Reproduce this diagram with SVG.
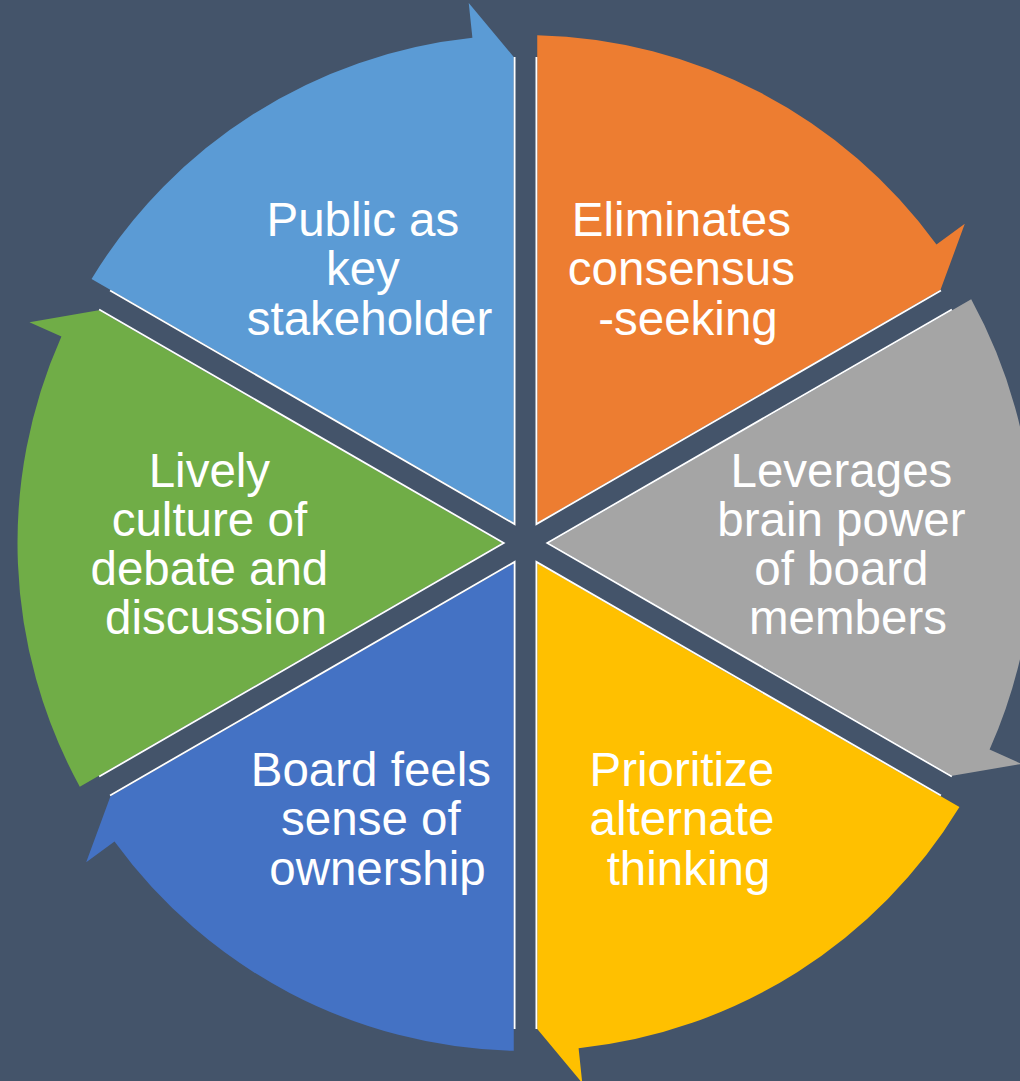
<svg xmlns="http://www.w3.org/2000/svg" width="1020" height="1081" viewBox="0 0 1020 1081">
  <defs>
    <style>
      .bg { fill: #44546A; }
      .edge { fill: none; stroke: #FFFFFF; stroke-width: 1.8; stroke-linejoin: miter; }
      .label { font-family: "Liberation Sans", Arial, sans-serif; font-size: 47.5px; fill: #FFFFFF; text-anchor: middle; }
    </style>
    <!-- one 60-degree wedge (12 o'clock to 2 o'clock) with its arrowhead at the clockwise end -->
    <path id="wedge" d="M11.75,-20.35 L11.75,-507.86 A508,508 0 0 1 410.98,-298.60 L439.30,-319.17 L415.02,-253.18 Z"/>
    <!-- white rule along both straight sides -->
    <path id="rule" d="M10.9,-486 L10.9,-18.9 L415.45,-252.45"/>
  </defs>

  <rect class="bg" x="0" y="0" width="1020" height="1081"/>

  <g id="node-eliminates">
    <g transform="translate(525.5 543) rotate(0)">
      <use href="#wedge" fill="#ED7D31"/>
      <use href="#rule" class="edge"/>
    </g>
    <text class="label">
      <tspan x="688" y="236">Eliminates</tspan>
      <tspan x="688" y="285">consensus</tspan>
      <tspan x="688" y="334.5">-seeking</tspan>
    </text>
  </g>

  <g id="node-leverages">
    <g transform="translate(525.5 543) rotate(60)">
      <use href="#wedge" fill="#A5A5A5"/>
      <use href="#rule" class="edge"/>
    </g>
    <text class="label">
      <tspan x="848" y="486.5">Leverages</tspan>
      <tspan x="848" y="535.8">brain power</tspan>
      <tspan x="848" y="585">of board</tspan>
      <tspan x="848" y="634.3">members</tspan>
    </text>
  </g>

  <g id="node-prioritize">
    <g transform="translate(525.5 543) rotate(120)">
      <use href="#wedge" fill="#FFC000"/>
      <use href="#rule" class="edge"/>
    </g>
    <text class="label">
      <tspan x="688.5" y="786">Prioritize</tspan>
      <tspan x="688.5" y="835">alternate</tspan>
      <tspan x="688.5" y="884.5">thinking</tspan>
    </text>
  </g>

  <g id="node-board">
    <g transform="translate(525.5 543) rotate(180)">
      <use href="#wedge" fill="#4472C4"/>
      <use href="#rule" class="edge"/>
    </g>
    <text class="label">
      <tspan x="377.5" y="786">Board feels</tspan>
      <tspan x="377.5" y="835">sense of</tspan>
      <tspan x="377.5" y="884.5">ownership</tspan>
    </text>
  </g>

  <g id="node-lively">
    <g transform="translate(525.5 543) rotate(240)">
      <use href="#wedge" fill="#70AD47"/>
      <use href="#rule" class="edge"/>
    </g>
    <text class="label">
      <tspan x="216" y="486.5">Lively</tspan>
      <tspan x="216" y="535.8">culture of</tspan>
      <tspan x="216" y="585">debate and</tspan>
      <tspan x="216" y="634.3">discussion</tspan>
    </text>
  </g>

  <g id="node-public">
    <g transform="translate(525.5 543) rotate(300)">
      <use href="#wedge" fill="#5B9BD5"/>
      <use href="#rule" class="edge"/>
    </g>
    <text class="label">
      <tspan x="369.5" y="236">Public as</tspan>
      <tspan x="369.5" y="285">key</tspan>
      <tspan x="369.5" y="334.5">stakeholder</tspan>
    </text>
  </g>

  <!-- the cycle has no separate connectors: each wedge carries its own arrowhead -->
  <g id="connectors"/>
</svg>
